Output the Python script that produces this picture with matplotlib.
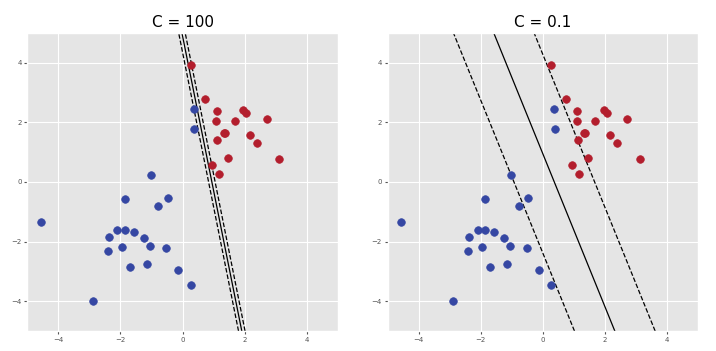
import numpy as np
import matplotlib
matplotlib.use("Agg")
import matplotlib.pyplot as plt

plt.style.use("ggplot")

# puncte clasa -1 (albastru)
blue_x = [-4.55, -2.88, -1.02, -1.86, -0.78, -0.47, -2.10, -1.85, -1.56, -2.36, -1.24,
          -2.40, -1.96, -1.05, -0.52, -1.69, -1.14, -0.13, 0.27, 0.36, 0.38]
blue_y = [-1.35, -3.98, 0.25, -0.56, -0.80, -0.54, -1.60, -1.62, -1.67, -1.85, -1.89,
          -2.30, -2.19, -2.15, -2.21, -2.85, -2.75, -2.97, -3.45, 2.46, 1.77]

# puncte clasa +1 (rosu)
red_x = [0.28, 0.74, 1.10, 1.09, 1.68, 1.96, 2.06, 2.71, 1.32, 1.37, 1.12, 2.16, 2.39,
         1.47, 0.94, 1.17, 3.12]
red_y = [3.94, 2.77, 2.38, 2.04, 2.05, 2.42, 2.30, 2.12, 1.63, 1.63, 1.41, 1.58, 1.31,
         0.81, 0.58, 0.27, 0.76]

# parametri SVM estimati: w1*x + w2*y + b = 0
C_values = [100, 0.1]
w_coefs = [(9.5, 1.83), (0.77, 0.30)]
intercepts = [-8.98, -0.285]

fig, axes = plt.subplots(1, 2, figsize=(7.16, 3.51), dpi=100)
fig.subplots_adjust(left=0.038, right=0.975, bottom=0.057, top=0.906, wspace=0.16)

ys = np.linspace(-5, 5, 200)
for ax, C, (w1, w2), b in zip(axes, C_values, w_coefs, intercepts):
    ax.scatter(blue_x, blue_y, s=30, color="#3547a3", zorder=3)
    ax.scatter(red_x, red_y, s=30, color="#b31e2d", zorder=3)
    for level, ls in [(0, "-"), (-1, "--"), (1, "--")]:
        xs = (level - b - w2 * ys) / w1
        ax.plot(xs, ys, color="k", linestyle=ls, linewidth=0.9, zorder=2)
    ax.set_xlim(-5, 5)
    ax.set_ylim(-5, 5)
    ax.set_xticks([-4, -2, 0, 2, 4])
    ax.set_yticks([-4, -2, 0, 2, 4])
    ax.tick_params(labelsize=5, length=2, pad=2)
    ax.set_title(f"C = {C}", fontsize=11, pad=4)

plt.savefig("out.png", dpi=100)
